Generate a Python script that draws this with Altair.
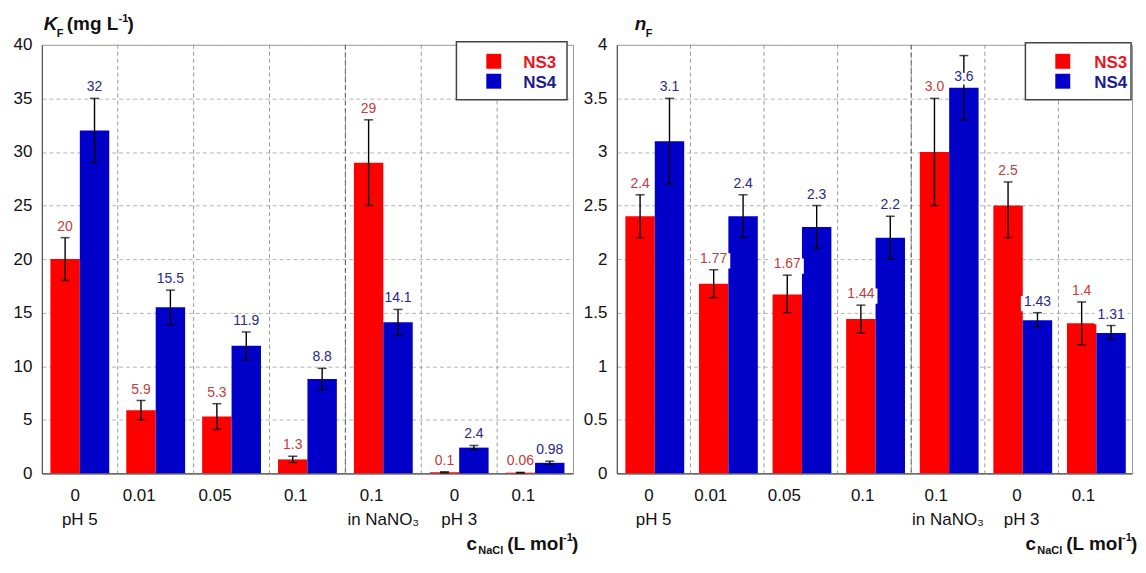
import json
import altair as alt
import pandas as pd

# ---------------- data ----------------
cat_main = ["0", "0.01", "0.05", "0.1", "0.1", "0", "0.1"]
cat_sub = ["pH 5", "", "", "", "in NaNO₃", "pH 3", ""]
series = ["NS3", "NS4"]

kf_ns3 = [20, 5.9, 5.3, 1.3, 29, 0.1, 0.06]
kf_ns3_lo = [18, 5.0, 4.1, 1.0, 25, 0.05, 0.03]
kf_ns3_hi = [22, 6.8, 6.5, 1.6, 33, 0.15, 0.09]
kf_ns3_text = ["20", "5.9", "5.3", "1.3", "29", "0.1", "0.06"]

kf_ns4 = [32, 15.5, 11.9, 8.8, 14.1, 2.4, 0.98]
kf_ns4_lo = [29, 13.9, 10.6, 7.8, 12.9, 2.2, 0.83]
kf_ns4_hi = [35, 17.1, 13.2, 9.8, 15.3, 2.6, 1.13]
kf_ns4_text = ["32", "15.5", "11.9", "8.8", "14.1", "2.4", "0.98"]

nf_ns3 = [2.4, 1.77, 1.67, 1.44, 3.0, 2.5, 1.4]
nf_ns3_lo = [2.2, 1.64, 1.5, 1.31, 2.5, 2.2, 1.2]
nf_ns3_hi = [2.6, 1.9, 1.85, 1.57, 3.5, 2.72, 1.6]
nf_ns3_text = ["2.4", "1.77", "1.67", "1.44", "3.0", "2.5", "1.4"]

nf_ns4 = [3.1, 2.4, 2.3, 2.2, 3.6, 1.43, 1.31]
nf_ns4_lo = [2.7, 2.2, 2.1, 2.0, 3.3, 1.37, 1.25]
nf_ns4_hi = [3.5, 2.6, 2.5, 2.4, 3.9, 1.5, 1.38]
nf_ns4_text = ["3.1", "2.4", "2.3", "2.2", "3.6", "1.43", "1.31"]

kf_ticks = [0, 5, 10, 15, 20, 25, 30, 35, 40]
nf_ticks = [0, 0.5, 1, 1.5, 2, 2.5, 3, 3.5, 4]

BAR_COLORS = {"NS3": "#ff0000", "NS4": "#0000c8"}
LABEL_COLORS = {"NS3": "#c43c3c", "NS4": "#28288c"}
LEGEND_TEXT = {"NS3": "#e8141e", "NS4": "#1c1c8c"}
FONT = "Liberation Sans"
BOX_PATH = "M-1,-0.46L1,-0.46L1,0.46L-1,0.46Z"

LABEL_EXPR = json.dumps(cat_main) + "[datum.value]"


def build_df(v3, lo3, hi3, t3, v4, lo4, hi4, t4, ymax):
    rows = []
    for i in range(len(cat_main)):
        for s, v, lo, hi, t in (("NS3", v3[i], lo3[i], hi3[i], t3[i]),
                                ("NS4", v4[i], lo4[i], hi4[i], t4[i])):
            anchor = hi if hi <= ymax * 0.95 else v
            w = 7.8 * (len(t) - 1) + 3.9 + 6 if "." in t else 7.8 * len(t) + 6
            rows.append(dict(cat=i, series=s, value=v, lo=lo, hi=hi, label=t,
                             anchor=anchor, barcol=BAR_COLORS[s],
                             labcol=LABEL_COLORS[s], boxsize=w * w))
    return pd.DataFrame(rows)


one = pd.DataFrame({"a": [0]})
bounds_df = pd.DataFrame({"cat": list(range(1, len(cat_main)))})
sub_df = pd.DataFrame({"cat": list(range(len(cat_main))), "sub": cat_sub})
sub_df = sub_df[sub_df["sub"] != ""]


def txt(s, x, y, size, color="#111111", style="normal", weight="bold"):
    return alt.Chart(one).mark_text(
        text=s, align="left", baseline="alphabetic", font=FONT, fontSize=size,
        fontWeight=weight, fontStyle=style, color=color
    ).encode(x=alt.value(x), y=alt.value(y))


def panel(df, ymax, yvalues, W, H, leg, title_layers, with_boxes):
    xscale = alt.Scale(domain=list(range(len(cat_main))), paddingInner=0, paddingOuter=0)
    xaxis = alt.Axis(labelExpr=LABEL_EXPR, labelAngle=0, labelFontSize=17, labelFont=FONT,
                     labelColor="#111111", labelPadding=14,
                     labelBaseline="top", ticks=False, tickSize=0, grid=False,
                     domainColor="#555555", domainWidth=1.2)
    yaxis = alt.Axis(values=yvalues, format="~g", grid=True, gridDash=[4, 3],
                     gridColor="#b4b4b4", gridWidth=1, ticks=False, tickSize=0,
                     labelPadding=10, labelFontSize=17, labelFont=FONT,
                     labelColor="#111111", domainColor="#555555", domainWidth=1.2)
    X = alt.X("cat:O", scale=xscale, axis=xaxis, title=None)
    XO = alt.XOffset("series:N", scale=alt.Scale(domain=series, paddingInner=0, paddingOuter=0.29))
    Y = alt.Y("value:Q", scale=alt.Scale(domain=[0, ymax], nice=False), axis=yaxis, title=None)

    base = alt.Chart(df)
    bars = base.mark_bar().encode(x=X, xOffset=XO, y=Y, color=alt.Color("barcol:N", scale=None))
    xs = alt.X("cat:O", title=None)
    xo = alt.XOffset("series:N")
    vgrid = alt.Chart(bounds_df).mark_rule(
        color="#9a9a9a", strokeDash=[4, 3], strokeWidth=1
    ).encode(x=alt.X("cat:O", bandPosition=0, title=None))
    sep = alt.Chart(pd.DataFrame({"cat": [4]})).mark_rule(
        color="#606060", strokeDash=[5, 3], strokeWidth=1
    ).encode(x=alt.X("cat:O", bandPosition=0, title=None))
    rules = base.mark_rule(color="black", strokeWidth=1.4).encode(
        x=xs, xOffset=xo, y=alt.Y("lo:Q", title=None), y2="hi:Q")
    cap_hi = base.mark_tick(color="black", thickness=1.5, size=9).encode(
        x=xs, xOffset=xo, y=alt.Y("hi:Q", title=None))
    cap_lo = base.mark_tick(color="black", thickness=1.5, size=9).encode(
        x=xs, xOffset=xo, y=alt.Y("lo:Q", title=None))
    labels = base.mark_text(baseline="bottom", dy=-4, fontSize=14, font=FONT).encode(
        x=xs, xOffset=xo, y=alt.Y("anchor:Q", title=None), text="label:N",
        color=alt.Color("labcol:N", scale=None))
    sublabels = alt.Chart(sub_df).mark_text(
        baseline="middle", fontSize=17, font=FONT, color="#111111"
    ).encode(x=xs, y=alt.value(H + 47), text="sub:N")
    layers = [vgrid, sep, bars, rules, cap_hi, cap_lo]
    if with_boxes:
        boxes = base.mark_point(shape=BOX_PATH, filled=True, color="white", opacity=1,
                                strokeWidth=0, yOffset=-9).encode(
            x=xs, xOffset=xo, y=alt.Y("anchor:Q", title=None),
            size=alt.Size("boxsize:Q", scale=None))
        layers.append(boxes)
    layers += [labels, sublabels]

    # legend box
    bx0, bx1, by0, by1, sqx, tx = leg
    layers.append(alt.Chart(one).mark_rect(fill="white", stroke="#444444", strokeWidth=1.5).encode(
        x=alt.value(bx0), x2=alt.value(bx1), y=alt.value(by0), y2=alt.value(by1)))
    for k, s in enumerate(series):
        y0 = 9 + 20 * k
        layers.append(alt.Chart(one).mark_rect(color=BAR_COLORS[s]).encode(
            x=alt.value(sqx), x2=alt.value(sqx + 15), y=alt.value(y0), y2=alt.value(y0 + 15)))
        layers.append(txt(s, tx, y0 + 14, 17, color=LEGEND_TEXT[s]))

    # x title: c_NaCl (L mol^-1)
    x0 = W - 107
    layers += [
        txt("c", x0, H + 77, 19),
        txt("NaCl", x0 + 12, H + 81, 11),
        txt("(L mol", x0 + 41, H + 77, 19),
        txt("-1", x0 + 97, H + 68, 11),
        txt(")", x0 + 106, H + 77, 19),
    ]
    layers += title_layers
    return alt.layer(*layers).properties(width=W, height=H)


kf_df = build_df(kf_ns3, kf_ns3_lo, kf_ns3_hi, kf_ns3_text,
                 kf_ns4, kf_ns4_lo, kf_ns4_hi, kf_ns4_text, 40)
nf_df = build_df(nf_ns3, nf_ns3_lo, nf_ns3_hi, nf_ns3_text,
                 nf_ns4, nf_ns4_lo, nf_ns4_hi, nf_ns4_text, 4)

WL, WR, H = 533, 517, 430

kf_title = [
    txt("K", 2, -15, 19, style="italic"),
    txt("F", 15, -8, 11),
    txt("(mg L", 25, -15, 19),
    txt("-1", 77, -23, 11),
    txt(")", 86, -15, 19),
]
nf_title = [
    txt("n", 18, -15, 19, style="italic"),
    txt("F", 29, -8, 11),
]

left = panel(kf_df, 40, kf_ticks, WL, H, (416, 527, -3, 55, 446, 483), kf_title, False)
right = panel(nf_df, 4, nf_ticks, WR, H, (410, WR - 1, -2, 55, 440, 479), nf_title, True)

chart = alt.hconcat(left, right, spacing=44, bounds="flush").properties(
    padding={"left": 4, "top": 3, "right": 0, "bottom": 0}
).configure(font=FONT).configure_view(stroke="#999999", strokeWidth=1)

chart.save("out.html", embed_options={"renderer": "svg", "actions": False})
